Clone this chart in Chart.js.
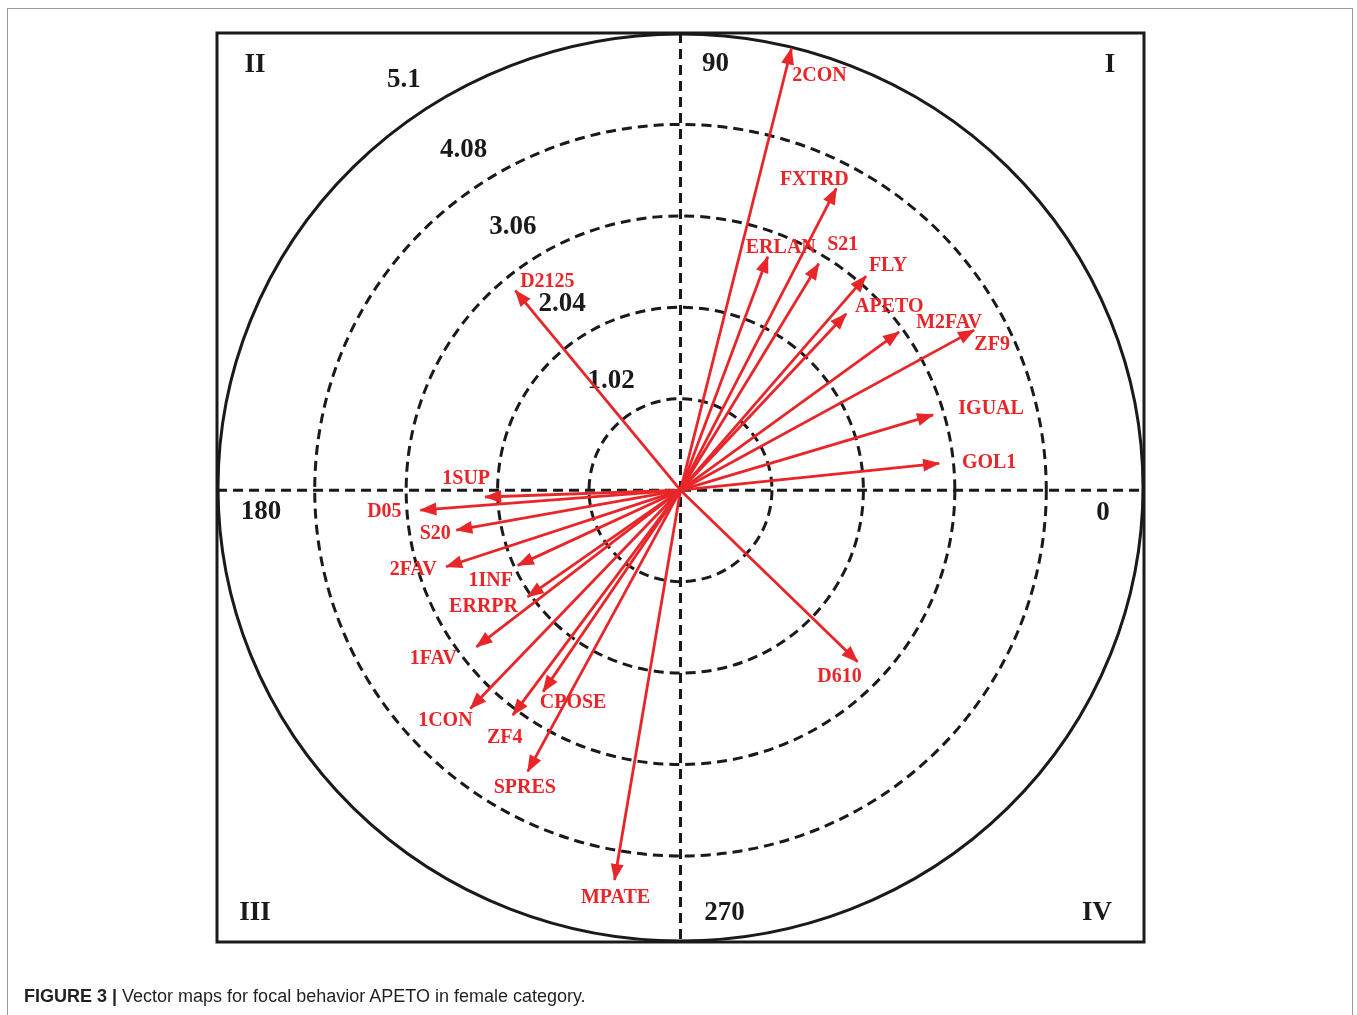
<!DOCTYPE html>
<html lang="en">
<head>
  <meta charset="UTF-8" />
  <title>Vector maps for focal behavior APETO</title>
  <script src="https://cdn.jsdelivr.net/npm/chart.js"></script>
  <style>
    body { margin: 0; background: #fff; }
    .page { position: relative; width: 1357px; height: 1015px; overflow: hidden; }
    .frame { position: absolute; left: 7px; top: 8px; width: 1346px; height: 1030px; border: 1px solid #9a9a9a; box-sizing: border-box; }
    canvas { position: absolute; left: 0; top: 0; }
    .caption {
      position: absolute; left: 24px; top: 986px;
      font-family: 'Liberation Sans', Arial, sans-serif;
      font-size: 18px; color: #231f20; white-space: nowrap;
    }
    .caption b { font-weight: bold; }
  </style>
</head>
<body>
  <div class="page">
    <div class="frame"></div>
    <canvas id="vectorChart" width="1357" height="1015"></canvas>
    <div class="caption"><b>FIGURE 3 |</b> Vector maps for focal behavior APETO in female category.</div>
  </div>

  <script>
    // vector labels, lengths and angles (degrees)
    const behaviors = ['2CON','FXTRD','ERLAN','S21','FLY','APETO','M2FAV','ZF9','IGUAL','GOL1','D2125','1SUP',
                       'D05','S20','2FAV','1INF','ERRPR','1FAV','1CON','ZF4','CPOSE','SPRES','MPATE','D610'];
    const lengths = [5.08,3.79,2.78,2.96,3.16,2.70,3.01,3.73,2.94,2.90,2.89,2.18,
                     2.91,2.54,2.75,2.00,2.08,2.87,3.38,3.13,2.72,3.57,4.41,2.75];
    const angles = [75.9,62.7,69.5,58.6,49.1,46.8,35.9,28.6,16.6,5.9,129.6,182.0,
                    184.4,190.1,198.1,204.8,214.9,217.5,226.1,233.3,235.7,241.5,260.4,315.9];

    // ring values and their labels
    const rings = [1.02, 2.04, 3.06, 4.08];
    const ringLabels = ['1.02', '2.04', '3.06', '4.08', '5.1'];
    const ringLabelValues = [1.02, 2.04, 3.06, 4.08, 5.1];

    // quadrant and angle tick labels
    const quadrants = ['I', 'II', 'III', 'IV'];
    const angleTicks = ['0', '90', '180', '270'];

    const RED = '#e8262a';
    const INK = '#1a1a1a';

    // where each label sits relative to its arrow tip (px)
    const labelOffset = {
      '2CON': [28, 27], 'FXTRD': [-22, -8], 'ERLAN': [13, -9], 'S21': [24, -19], 'FLY': [22, -10],
      'APETO': [43, -7], 'M2FAV': [50, -9], 'ZF9': [18, 15], 'IGUAL': [58, -6], 'GOL1': [50, -1],
      'D2125': [32, -9], '1SUP': [-19, -18], 'D05': [-36, 2], 'S20': [-21, 4], '2FAV': [-33, 3],
      '1INF': [-27, 15], 'ERRPR': [-44, 10], '1FAV': [-43, 12], '1CON': [-25, 12], 'ZF4': [-8, 23],
      'CPOSE': [30, 11], 'SPRES': [-3, 16], 'MPATE': [1, 18], 'D610': [-18, 15]
    };

    const rad = d => d * Math.PI / 180;

    const datasets = behaviors.map((name, i) => ({
      label: name,
      data: [
        { x: 0, y: 0 },
        { x: lengths[i] * Math.cos(rad(angles[i])), y: lengths[i] * Math.sin(rad(angles[i])) }
      ],
      showLine: true,
      borderColor: RED,
      borderWidth: 2.8,
      pointRadius: 0
    }));

    const vectorMapPlugin = {
      id: 'vectorMap',
      beforeDatasetsDraw(chart) {
        const { ctx, chartArea: a, scales: { x, y } } = chart;
        const x0 = x.getPixelForValue(0), y0 = y.getPixelForValue(0);
        ctx.save();
        ctx.strokeStyle = INK;
        ctx.lineWidth = 3;

        // outer solid circle touching the frame
        ctx.beginPath();
        ctx.ellipse((a.left + a.right) / 2, (a.top + a.bottom) / 2, a.width / 2 - 1, a.height / 2 - 1, 0, 0, Math.PI * 2);
        ctx.stroke();

        // dashed rings + axes
        ctx.setLineDash([10, 6]);
        rings.forEach(r => {
          const rx = x.getPixelForValue(r) - x0;
          const ry = y0 - y.getPixelForValue(r);
          ctx.beginPath();
          ctx.ellipse(x0, y0, rx, ry, 0, 0, Math.PI * 2);
          ctx.stroke();
        });
        ctx.beginPath();
        ctx.moveTo(a.left, y0); ctx.lineTo(a.right, y0);
        ctx.moveTo(x0, a.top); ctx.lineTo(x0, a.bottom);
        ctx.stroke();
        ctx.setLineDash([]);

        // frame
        ctx.lineWidth = 3;
        ctx.strokeRect(a.left, a.top, a.width, a.height);

        // black labels
        ctx.fillStyle = INK;
        ctx.font = 'bold 27px "Liberation Serif", "Times New Roman", serif';
        ctx.textAlign = 'center';
        ctx.textBaseline = 'middle';
        ringLabels.forEach((t, i) => {
          const r = ringLabelValues[i] + 0.42;
          const ang = rad(i === 4 ? 124 : 122.5);
          ctx.fillText(t, x.getPixelForValue(r * Math.cos(ang)), y.getPixelForValue(r * Math.sin(ang)));
        });
        ctx.fillText(quadrants[0], a.right - 34, a.top + 32);
        ctx.fillText(quadrants[1], a.left + 38, a.top + 32);
        ctx.fillText(quadrants[2], a.left + 38, a.bottom - 29);
        ctx.fillText(quadrants[3], a.right - 47, a.bottom - 29);
        ctx.fillText(angleTicks[0], a.right - 41, y0 + 23);
        ctx.fillText(angleTicks[1], x0 + 35, a.top + 31);
        ctx.fillText(angleTicks[2], a.left + 44, y0 + 22);
        ctx.fillText(angleTicks[3], x0 + 44, a.bottom - 29);

        // red vector labels (drawn under the lines, as in the figure)
        ctx.fillStyle = RED;
        ctx.font = 'bold 20px "Liberation Serif", "Times New Roman", serif';
        chart.data.datasets.forEach((ds, i) => {
          const tip = chart.getDatasetMeta(i).data[1];
          const off = labelOffset[ds.label] || [0, 0];
          ctx.fillText(ds.label, tip.x + off[0], tip.y + off[1]);
        });
        ctx.restore();
      },
      afterDatasetsDraw(chart) {
        const { ctx } = chart;
        ctx.save();
        ctx.fillStyle = RED;
        chart.data.datasets.forEach((ds, i) => {
          const pts = chart.getDatasetMeta(i).data;
          const dx = pts[1].x - pts[0].x, dy = pts[1].y - pts[0].y;
          const len = Math.hypot(dx, dy);
          const ux = dx / len, uy = dy / len;
          const hl = 16, hw = 6.5;
          const bx = pts[1].x - ux * hl, by = pts[1].y - uy * hl;
          ctx.beginPath();
          ctx.moveTo(pts[1].x + ux, pts[1].y + uy);
          ctx.lineTo(bx - uy * hw, by + ux * hw);
          ctx.lineTo(bx + uy * hw, by - ux * hw);
          ctx.closePath();
          ctx.fill();
        });
        ctx.restore();
      }
    };

    new Chart(document.getElementById('vectorChart').getContext('2d'), {
      type: 'scatter',
      data: { datasets },
      options: {
        responsive: false,
        animation: false,
        events: [],
        layout: { padding: { left: 217, top: 33, right: 213, bottom: 73 } },
        plugins: { legend: { display: false }, tooltip: { enabled: false } },
        scales: {
          x: { type: 'linear', min: -5.17, max: 5.17, display: false },
          y: { type: 'linear', min: -5.04, max: 5.10, display: false }
        }
      },
      plugins: [vectorMapPlugin]
    });
  </script>
</body>
</html>
